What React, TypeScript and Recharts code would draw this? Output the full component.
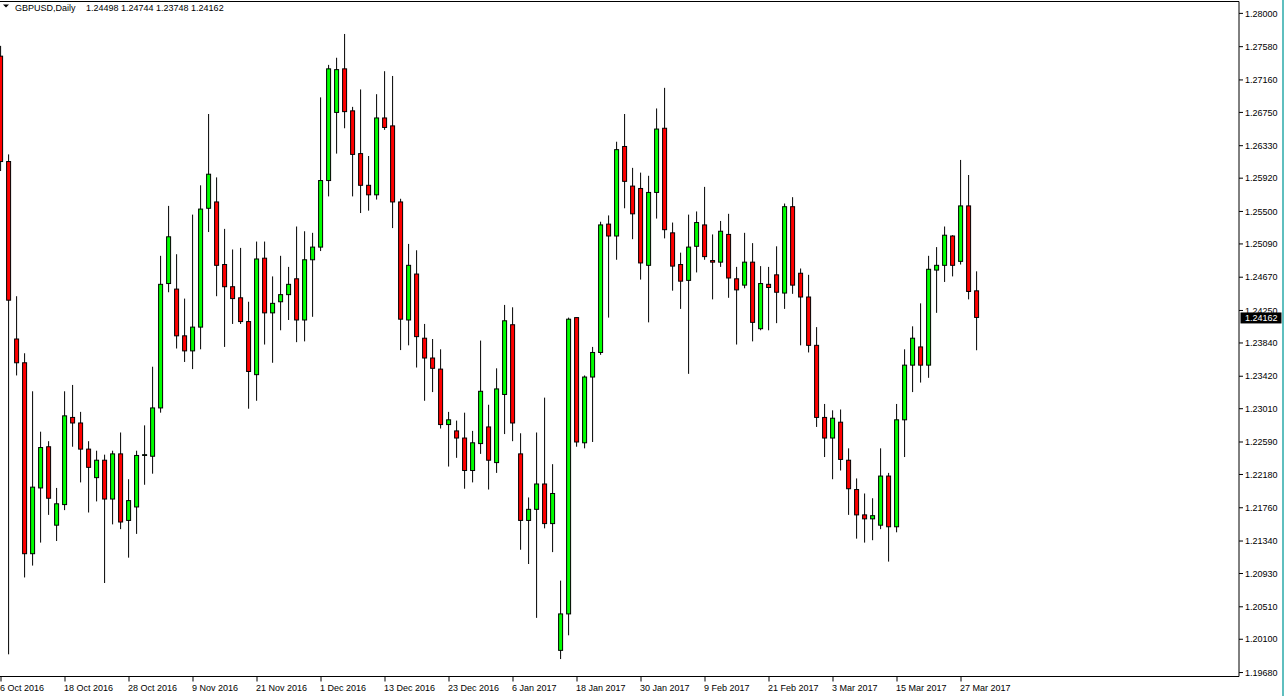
import React from 'react';
import { ComposedChart, Bar, XAxis, YAxis, ReferenceLine } from 'recharts';

// GBPUSD daily, 6 Oct 2016 .. 29 Mar 2017
const OPEN = [
  1.2746, 1.2613, 1.2389, 1.2359, 1.2118, 1.2201, 1.2253, 1.2154, 1.2180, 1.2290,
  1.2283, 1.2250, 1.2214, 1.2236, 1.2187, 1.2244, 1.2160, 1.2177, 1.2242, 1.2241,
  1.2302, 1.2459, 1.2452, 1.2393, 1.2374, 1.2404, 1.2554, 1.2562, 1.2483, 1.2455,
  1.2441, 1.2411, 1.2344, 1.2491, 1.2422, 1.2436, 1.2445, 1.2465, 1.2413, 1.2489,
  1.2505, 1.2589, 1.2675, 1.2730, 1.2677, 1.2623, 1.2583, 1.2571, 1.2668, 1.2658,
  1.2562, 1.2413, 1.2471, 1.2390, 1.2365, 1.2351, 1.2281, 1.2273, 1.2264, 1.2223,
  1.2257, 1.2278, 1.2233, 1.2319, 1.2407, 1.2244, 1.2160, 1.2174, 1.2206, 1.2156,
  1.1996, 1.2042, 1.2416, 1.2258, 1.2341, 1.2372, 1.2534, 1.2519, 1.2632, 1.2582,
  1.2579, 1.2482, 1.2574, 1.2655, 1.2523, 1.2483, 1.2463, 1.2506, 1.2533, 1.2488,
  1.2486, 1.2521, 1.2465, 1.2457, 1.2486, 1.2402, 1.2458, 1.2470, 1.2447, 1.2556,
  1.2472, 1.2442, 1.2381, 1.2290, 1.2264, 1.2284, 1.2236, 1.2199, 1.2167, 1.2162,
  1.2154, 1.2216, 1.2152, 1.2287, 1.2356, 1.2379, 1.2356, 1.2476, 1.2482, 1.2519,
  1.2487, 1.2557, 1.24498,
];
const HIGH = [
  1.2759, 1.2622, 1.2443, 1.2371, 1.2323, 1.2272, 1.2260, 1.2201, 1.2323, 1.2331,
  1.2297, 1.2260, 1.2248, 1.2243, 1.2248, 1.2271, 1.2212, 1.2248, 1.2280, 1.2354,
  1.2494, 1.2557, 1.2496, 1.2440, 1.2546, 1.2583, 1.2673, 1.2593, 1.2528, 1.2502,
  1.2504, 1.2436, 1.2512, 1.2512, 1.2468, 1.2494, 1.2480, 1.2531, 1.2525, 1.2523,
  1.2694, 1.2735, 1.2744, 1.2774, 1.2682, 1.2704, 1.2620, 1.2698, 1.2727, 1.2721,
  1.2566, 1.2509, 1.2501, 1.2408, 1.2389, 1.2376, 1.2297, 1.2286, 1.2296, 1.2273,
  1.2387, 1.2306, 1.2352, 1.2432, 1.2429, 1.2270, 1.2189, 1.2271, 1.2315, 1.2231,
  1.2084, 1.2416, 1.2416, 1.2343, 1.2379, 1.2537, 1.2545, 1.2638, 1.2673, 1.2605,
  1.2599, 1.2595, 1.2680, 1.2706, 1.2536, 1.2498, 1.2546, 1.2550, 1.2581, 1.2521,
  1.2538, 1.2547, 1.2480, 1.2523, 1.2510, 1.2481, 1.2480, 1.2506, 1.2560, 1.2568,
  1.2478, 1.2470, 1.2404, 1.2307, 1.2299, 1.2300, 1.2251, 1.2213, 1.2194, 1.2188,
  1.2251, 1.2220, 1.2307, 1.2376, 1.2405, 1.2434, 1.2494, 1.2505, 1.2531, 1.2520,
  1.2615, 1.2596, 1.24744,
];
const LOW = [
  1.2601, 1.1991, 1.2343, 1.2088, 1.2103, 1.2132, 1.2167, 1.2134, 1.2173, 1.2253,
  1.2208, 1.2170, 1.2184, 1.2081, 1.2155, 1.2149, 1.2113, 1.2143, 1.2205, 1.2219,
  1.2296, 1.2448, 1.2377, 1.2360, 1.2351, 1.2376, 1.2524, 1.2443, 1.2379, 1.2408,
  1.2408, 1.2301, 1.2311, 1.2382, 1.2359, 1.2400, 1.2413, 1.2385, 1.2386, 1.2417,
  1.2500, 1.2569, 1.2623, 1.2655, 1.2569, 1.2548, 1.2551, 1.2565, 1.2653, 1.2529,
  1.2375, 1.2381, 1.2353, 1.2311, 1.2322, 1.2276, 1.2228, 1.2239, 1.2200, 1.2208,
  1.2244, 1.2199, 1.2220, 1.2269, 1.2260, 1.2123, 1.2105, 1.2037, 1.2150, 1.2120,
  1.1985, 1.2015, 1.2253, 1.2251, 1.2259, 1.2369, 1.2416, 1.2489, 1.2554, 1.2515,
  1.2464, 1.2410, 1.2541, 1.2516, 1.2450, 1.2427, 1.2345, 1.2473, 1.2489, 1.2439,
  1.2480, 1.2441, 1.2382, 1.2453, 1.2386, 1.2400, 1.2400, 1.2409, 1.2427, 1.2446,
  1.2381, 1.2372, 1.2278, 1.2240, 1.2212, 1.2223, 1.2167, 1.2137, 1.2132, 1.2135,
  1.2149, 1.2108, 1.2145, 1.2240, 1.2322, 1.2334, 1.2340, 1.2422, 1.2461, 1.2468,
  1.2483, 1.2439, 1.23748,
];
const CLOSE = [
  1.2613, 1.2438, 1.2359, 1.2118, 1.2202, 1.2252, 1.2188, 1.2181, 1.2292, 1.2283,
  1.2250, 1.2227, 1.2236, 1.2187, 1.2244, 1.2158, 1.2185, 1.2242, 1.2243, 1.2302,
  1.2458, 1.2518, 1.2393, 1.2374, 1.2404, 1.2553, 1.2597, 1.2482, 1.2455, 1.2440,
  1.2411, 1.2348, 1.2490, 1.2422, 1.2434, 1.2445, 1.2458, 1.2413, 1.2489, 1.2505,
  1.2589, 1.2730, 1.2729, 1.2676, 1.2622, 1.2583, 1.2571, 1.2668, 1.2656, 1.2562,
  1.2414, 1.2482, 1.2392, 1.2365, 1.2352, 1.2281, 1.2287, 1.2264, 1.2223, 1.2258,
  1.2323, 1.2236, 1.2326, 1.2412, 1.2283, 1.2160, 1.2174, 1.2206, 1.2156, 1.2194,
  1.2042, 1.2414, 1.2259, 1.2341, 1.2372, 1.2533, 1.2519, 1.2628, 1.2588, 1.2547,
  1.2485, 1.2574, 1.2654, 1.2527, 1.2481, 1.2462, 1.2505, 1.2536, 1.2493, 1.2486,
  1.2525, 1.2466, 1.2451, 1.2486, 1.2410, 1.2459, 1.2454, 1.2448, 1.2556, 1.2457,
  1.2442, 1.2381, 1.2290, 1.2264, 1.2289, 1.2237, 1.2200, 1.2167, 1.2162, 1.2166,
  1.2216, 1.2152, 1.2287, 1.2356, 1.2390, 1.2356, 1.2477, 1.2482, 1.2520, 1.2482,
  1.2557, 1.2449, 1.24162,
];

const DATE_LABELS = [
  '6 Oct 2016', '18 Oct 2016', '28 Oct 2016', '9 Nov 2016', '21 Nov 2016', '1 Dec 2016',
  '13 Dec 2016', '23 Dec 2016', '6 Jan 2017', '18 Jan 2017', '30 Jan 2017', '9 Feb 2017',
  '21 Feb 2017', '3 Mar 2017', '15 Mar 2017', '27 Mar 2017',
];
const LABEL_STEP = 8; // one date label every 8 bars

const PRICE_TICKS = [
  1.28, 1.2758, 1.2716, 1.2675, 1.2633, 1.2592, 1.255, 1.2509, 1.2467, 1.2425, 1.2384,
  1.2342, 1.2301, 1.2259, 1.2218, 1.2176, 1.2134, 1.2093, 1.2051, 1.201, 1.1968,
];
const Y_DOMAIN: [number, number] = [1.1963, 1.2815];

const FONT = '"Liberation Sans", Arial, sans-serif';
const UP = '#00ff00';
const DOWN = '#ff0000';

const last = OPEN.length - 1;
const LAST_PRICE = CLOSE[last];

const rows = OPEN.map((o, i) => ({
  i,
  open: o,
  high: HIGH[i],
  low: LOW[i],
  close: CLOSE[i],
  range: [LOW[i], HIGH[i]],
}));

const Candle = (props: any) => {
  const { x, y, width, height, payload } = props;
  if (!payload || width == null) return null;
  const top = Math.min(y, y + height);
  const h = Math.abs(height);
  const span = payload.high - payload.low;
  const toY = (p: number) => top + ((payload.high - p) / span) * h;
  const cx = x + width / 2;
  const yO = toY(payload.open);
  const yC = toY(payload.close);
  const bodyTop = Math.min(yO, yC);
  const bodyH = Math.max(Math.abs(yO - yC), 0.5);
  return (
    <g>
      <line x1={cx} x2={cx} y1={top} y2={top + h} stroke="#000" strokeWidth={1} />
      <rect
        x={cx - 2}
        y={bodyTop}
        width={4}
        height={bodyH}
        fill={payload.close >= payload.open ? UP : DOWN}
        stroke="#000"
        strokeWidth={1}
      />
    </g>
  );
};

const PriceTick = (props: any) => {
  const { x, y, payload } = props;
  const axisX = x - 6;
  const v = payload.value as number;
  if (v === LAST_PRICE) {
    return (
      <g>
        <rect x={axisX + 1.5} y={y - 5} width={41} height={11} fill="#000" />
        <text x={x} y={y} dy={3.6} fill="#fff" fontSize={9} fontFamily={FONT}>
          {v.toFixed(5)}
        </text>
      </g>
    );
  }
  return (
    <g>
      <line x1={axisX} x2={axisX + 4} y1={y} y2={y} stroke="#000" />
      <text x={x} y={y} dy={3.2} fill="#000" fontSize={9} fontFamily={FONT}>
        {v.toFixed(5)}
      </text>
    </g>
  );
};

const DateTick = (props: any) => {
  const { x, y, payload } = props;
  return (
    <text x={x - 1} y={y} dy={9.5} fill="#000" fontSize={9} fontFamily={FONT} textAnchor="start">
      {DATE_LABELS[payload.value / LABEL_STEP]}
    </text>
  );
};

export default function App() {
  const ohlc = [OPEN[last], HIGH[last], LOW[last], CLOSE[last]].map((v) => v.toFixed(5)).join(' ');
  return (
    <div
      style={{
        position: 'absolute',
        left: 0,
        top: 0,
        width: 1284,
        height: 696,
        overflow: 'hidden',
        background: '#fff',
      }}
    >
      <div style={{ position: 'absolute', left: -3.5, top: 0 }}>
        <ComposedChart
          width={1288}
          height={696}
          data={rows}
          margin={{ top: 1.5, right: 0, bottom: 0, left: 0 }}
          barCategoryGap={0}
        >
          <XAxis
            dataKey="i"
            type="category"
            ticks={DATE_LABELS.map((_, n) => n * LABEL_STEP)}
            interval={0}
            tick={<DateTick />}
            tickSize={5}
            tickMargin={0}
            tickLine={{ stroke: '#000' }}
            axisLine={{ stroke: '#000' }}
            padding={{ left: 0, right: 258 }}
            height={19.5}
          />
          <YAxis
            orientation="right"
            type="number"
            domain={Y_DOMAIN}
            allowDataOverflow
            ticks={[...PRICE_TICKS, LAST_PRICE]}
            interval={0}
            tick={<PriceTick />}
            tickSize={4}
            tickMargin={2}
            tickLine={false}
            axisLine={{ stroke: '#000' }}
            width={46}
          />
          <ReferenceLine y={Y_DOMAIN[1]} stroke="#000" ifOverflow="visible" />
          <Bar dataKey="range" barSize={8} isAnimationActive={false} shape={(p: any) => <Candle {...p} />} />
        </ComposedChart>
      </div>
      <svg style={{ position: 'absolute', left: 0, top: 0 }} width={260} height={14}>
        <polygon points="3,4.5 9,4.5 6,7.5" fill="#000" />
        <text x={15} y={10.5} fontSize={9} fontFamily={FONT} fill="#000">
          GBPUSD,Daily
        </text>
        <text x={86} y={10.5} fontSize={9} fontFamily={FONT} fill="#000" style={{ whiteSpace: 'pre' }}>
          {ohlc}
        </text>
      </svg>
      <div style={{ position: 'absolute', left: 1282, top: 0, width: 2, height: 696, background: '#5fbfbf' }} />
    </div>
  );
}
